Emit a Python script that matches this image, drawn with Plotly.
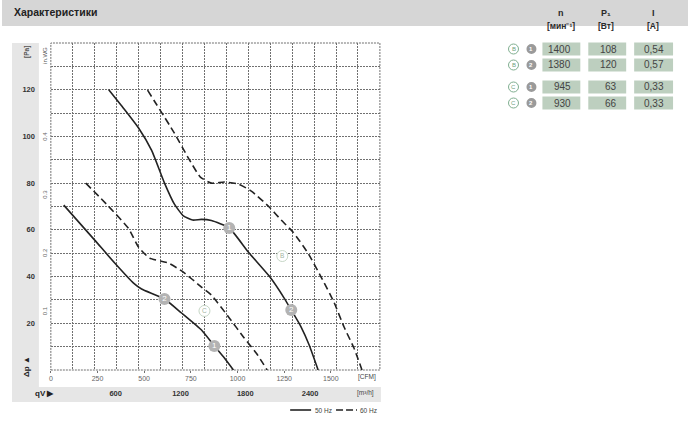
import plotly.graph_objects as go

# ---- data -------------------------------------------------------------
b50_x = [310, 390, 470, 540, 609, 662, 710, 760, 807, 860, 956, 1058, 1170, 1250, 1288, 1341, 1384, 1432]
b50_y = [120, 112, 103.6, 94, 80, 71, 66, 64.2, 64.5, 64, 60.8, 50.5, 40.2, 30.8, 25.7, 18.4, 10.7, 0]
b60_x = [518, 662, 737, 801, 860, 930, 1004, 1074, 1170, 1234, 1298, 1378, 1448, 1517, 1571, 1624, 1667]
b60_y = [119.8, 101.4, 90.7, 82.6, 80, 80.5, 79.6, 76.6, 69.8, 64.2, 59, 50, 39.8, 29, 18.4, 9.4, 0]
c50_x = [69, 235, 342, 443, 486, 609, 700, 807, 876, 930, 978]
c50_y = [70.6, 55.6, 45.8, 37.2, 34.7, 30.4, 24.4, 17.1, 10.3, 5.1, 0]
c60_x = [187, 310, 417, 470, 529, 630, 710, 807, 860, 956, 1036, 1100, 1159]
c60_y = [80, 70, 60.5, 52.6, 47.9, 45.8, 41.9, 35.5, 32.1, 22.3, 13.7, 7.3, 0]

point_x = [956, 1288, 609, 876]
point_y = [60.8, 25.7, 30.4, 10.3]
point_labels = ["1", "2", "2", "1"]
letter_x = [823, 1240]
letter_y = [25.3, 48.8]
letter_labels = ["C", "B"]

cfm_ticks = [0, 250, 500, 750, 1000, 1250, 1500]
m3h_ticks = [600, 1200, 1800, 2400]
pa_ticks = [20, 40, 60, 80, 100, 120]
inwg_ticks = [0.1, 0.2, 0.3, 0.4]
y_grid = list(range(0, 150, 10))

rows_letter = ["B", "B", "C", "C"]
rows_number = ["1", "2", "1", "2"]
rows_n = ["1400", "1380", "945", "930"]
rows_p = ["108", "120", "63", "66"]
rows_i = ["0,54", "0,57", "0,33", "0,33"]

# ---- layout helpers ----------------------------------------------------
W, H = 688, 426
L, R, T, B = 49, 379, 43, 370
def px(v): return v / W
def py(v): return 1 - v / H

INK = "#2a2a2a"
FONT = "Liberation Sans, Arial, sans-serif"

fig = go.Figure()
curve_line = dict(color="#222222", width=1.6, shape="spline", smoothing=0.5)
dash_line = dict(color="#222222", width=1.6, shape="spline", smoothing=0.5, dash="7px,4px")

fig.add_trace(go.Scatter(x=b50_x, y=b50_y, mode="lines", line=curve_line, name="50 Hz", showlegend=False))
fig.add_trace(go.Scatter(x=b60_x, y=b60_y, mode="lines", line=dash_line, name="60 Hz", showlegend=False))
fig.add_trace(go.Scatter(x=c50_x, y=c50_y, mode="lines", line=curve_line, showlegend=False))
fig.add_trace(go.Scatter(x=c60_x, y=c60_y, mode="lines", line=dash_line, showlegend=False))
fig.add_trace(go.Scatter(x=point_x, y=point_y, mode="markers+text", text=point_labels,
                         textposition="middle center", textfont=dict(size=8, color="#ffffff", family=FONT),
                         marker=dict(size=12, color="#b3b3b3"), showlegend=False))
fig.add_trace(go.Scatter(x=letter_x, y=letter_y, mode="markers+text", text=letter_labels,
                         textposition="middle center", textfont=dict(size=6.5, color="#9fb59f", family=FONT),
                         marker=dict(size=11, color="#ffffff", line=dict(color="#c6d6c6", width=1)), showlegend=False))
# carriers for the secondary scales
fig.add_trace(go.Scatter(x=m3h_ticks, y=[0] * 4, xaxis="x2", mode="markers", marker=dict(opacity=0), showlegend=False, hoverinfo="skip"))
fig.add_trace(go.Scatter(x=[0] * 4, y=inwg_ticks, yaxis="y2", mode="markers", marker=dict(opacity=0), showlegend=False, hoverinfo="skip"))

GRID = "#707070"
GRIDDASH = "2px,1px"
shapes = [
    dict(type="rect", xref="paper", yref="paper", x0=0, x1=1, y0=py(26), y1=1, fillcolor="#d6d6d6", line_width=0, layer="below"),
    dict(type="rect", xref="paper", yref="paper", x0=px(10), x1=px(37), y0=py(402), y1=py(43), fillcolor="#e6e6e6", line_width=0, layer="below"),
    dict(type="rect", xref="paper", yref="paper", x0=px(10), x1=px(380), y0=py(402), y1=py(387), fillcolor="#e6e6e6", line_width=0, layer="below"),
    dict(type="rect", xref="paper", yref="paper", x0=px(L), x1=px(R), y0=py(B), y1=py(T), line=dict(color=GRID, width=1, dash=GRIDDASH), layer="below"),
    dict(type="line", xref="paper", yref="paper", x0=px(289), x1=px(310), y0=py(410), y1=py(410), line=dict(color="#222222", width=1.6)),
    dict(type="line", xref="paper", yref="paper", x0=px(335), x1=px(356), y0=py(410), y1=py(410), line=dict(color="#222222", width=1.6, dash="7px,3px")),
]
ann = []
def text(x, y, s, size=8, color=INK, bold=False, angle=0, anchor="center"):
    ann.append(dict(xref="paper", yref="paper", x=px(x), y=py(y), text=f"<b>{s}</b>" if bold else s, showarrow=False,
                    font=dict(size=size, color=color, family=FONT), textangle=angle, xanchor=anchor, yanchor="middle"))

text(10, 12, "Характеристики", size=10.5, bold=True, color="#222222", anchor="left")
text(561, 13, "n", bold=True, size=9); text(561, 26, "[мин⁻¹]", size=8.5, bold=True)
text(606, 13, "P₁", bold=True, size=9); text(606, 26, "[Вт]", size=8.5, bold=True)
text(653, 13, "I", bold=True, size=9); text(653, 26, "[А]", size=8.5, bold=True)

row_y = [49, 65, 87, 103]
cols = [(542, 580, rows_n), (588, 626, rows_p), (634, 673, rows_i)]
for k, yc in enumerate(row_y):
    for x0, x1, vals in cols:
        shapes.append(dict(type="rect", xref="paper", yref="paper", x0=px(x0), x1=px(x1), y0=py(yc + 6.5), y1=py(yc - 6.5),
                           fillcolor="#bdcfbf", line_width=0))
        text(x1 - 7, yc, vals[k], size=10, color="#444444", anchor="right")
    shapes.append(dict(type="circle", xref="paper", yref="paper", x0=px(508), x1=px(518), y0=py(yc + 5), y1=py(yc - 5),
                       fillcolor="#ffffff", line=dict(color="#7fae8f", width=1)))
    text(513, yc, rows_letter[k], size=6, color="#6f9f80")
    shapes.append(dict(type="circle", xref="paper", yref="paper", x0=px(526), x1=px(536), y0=py(yc + 5), y1=py(yc - 5),
                       fillcolor="#9a9a9a", line_width=0))
    text(531, yc, rows_number[k], size=6, color="#ffffff", bold=True)

# unit labels
text(25, 52, "[Pa]", size=6.5, bold=True, angle=-90, color="#555555")
text(43, 55, "in.WG", size=6, angle=-90, color="#555555")
text(366, 377, "[CFM]", size=6.5, color="#444444")
text(365, 393, "[m³/h]", size=6.5, color="#444444")
text(24, 366, "Δp ▲", size=8, bold=True, angle=-90, color="#222222")
text(43, 393, "qV ▶", size=8, bold=True, color="#222222")
text(312, 410, "50 Hz", size=6.5, color="#444444", anchor="left")
text(357, 410, "60 Hz", size=6.5, color="#444444", anchor="left")

fig.update_layout(
    width=W, height=H, margin=dict(l=0, r=0, t=0, b=0), paper_bgcolor="white", plot_bgcolor="white",
    font=dict(family=FONT, color=INK, size=7),
    shapes=shapes, annotations=ann, showlegend=False,
    xaxis=dict(domain=[px(L), px(R)], range=[0, 1763], tickvals=cfm_ticks, ticks="outside", ticklen=2, tickcolor=GRID,
               tickfont=dict(size=7, color="#666666"), showgrid=False, zeroline=False, showline=False,
               minor=dict(tickvals=[i * 1763 / 15 for i in range(16)], showgrid=True, gridcolor=GRID, griddash=GRIDDASH, gridwidth=1, ticks="")),
    xaxis2=dict(domain=[px(L), px(R)], range=[0, 3046], overlaying="x", anchor="free", position=py(387), side="bottom",
                tickvals=m3h_ticks, ticks="", tickfont=dict(size=7.5, color="#333333", weight="bold"), showgrid=False, zeroline=False),
    yaxis=dict(domain=[py(B), py(T)], range=[0, 140], anchor="free", position=px(33), tickvals=pa_ticks, ticks="",
               tickfont=dict(size=7.5, color="#333333", weight="bold"), showgrid=False, zeroline=False, showline=False,
               minor=dict(tickvals=y_grid, showgrid=True, gridcolor=GRID, griddash=GRIDDASH, gridwidth=1, ticks="")),
    yaxis2=dict(domain=[py(B), py(T)], range=[0, 0.5625], overlaying="y", anchor="x", side="left", tickvals=inwg_ticks,
                ticks="", tickangle=-90, ticklabelstandoff=2, tickfont=dict(size=6, color="#666666"), showgrid=False, zeroline=False),
)
fig.write_html("out.html", config={"displayModeBar": False}, post_script="document.body.style.margin='0';")
